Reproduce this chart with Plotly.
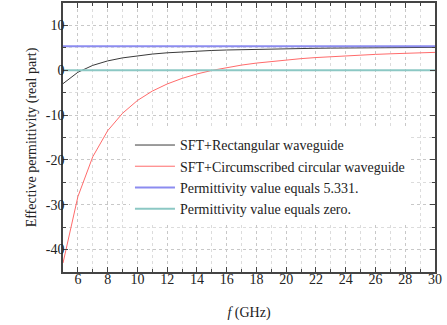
import plotly.graph_objects as go

freq = list(range(5, 31))
rect_wg = [-2.99, -0.45, 1.09, 2.08, 2.76, 3.25, 3.61, 3.89, 4.10, 4.27, 4.41, 4.52, 4.61,
           4.69, 4.76, 4.81, 4.86, 4.90, 4.94, 4.97, 5.00, 5.02, 5.05, 5.07, 5.08, 5.10]
circ_wg = [-43.0, -28.2, -19.3, -13.5, -9.6, -6.75, -4.65, -3.06, -1.82, -0.83, -0.04, 0.61, 1.15,
           1.60, 1.98, 2.31, 2.59, 2.83, 3.05, 3.23, 3.40, 3.54, 3.67, 3.79, 3.89, 3.99]
eps_const = 5.331
x_range = [5, 30]
y_tickvals = [-40, -30, -20, -10, 0, 10]
y_ticktext = ["-40", "-30", "-20", "-10", "0", "10"]
names = ["SFT+Rectangular waveguide", "SFT+Circumscribed circular waveguide",
         "Permittivity value equals 5.331.", "Permittivity value equals zero."]

font = "Liberation Serif, Times New Roman, serif"

fig = go.Figure()
fig.add_trace(go.Scatter(x=freq, y=rect_wg, mode="lines", name=names[0],
                         line=dict(color="#3a3a3a", width=1)))
fig.add_trace(go.Scatter(x=freq, y=circ_wg, mode="lines", name=names[1],
                         line=dict(color="#ff6b6b", width=1)))
fig.add_trace(go.Scatter(x=x_range, y=[eps_const, eps_const], mode="lines", name=names[2],
                         line=dict(color="#8c8cf0", width=2)))
fig.add_trace(go.Scatter(x=x_range, y=[0, 0], mode="lines", name=names[3],
                         line=dict(color="#8cc8c4", width=2)))

axis_common = dict(
    showline=True, linecolor="#444", linewidth=1.5, mirror="ticks",
    ticks="inside", ticklen=5, tickcolor="#444",
    showgrid=True, gridcolor="#c8c8c8", griddash="dot", gridwidth=1,
    zeroline=False,
    tickfont=dict(family=font, size=14, color="#222"),
)

fig.update_xaxes(range=x_range, dtick=2, tick0=0, ticklabelstandoff=-7,
                 minor=dict(dtick=1, ticks="inside", ticklen=3, tickcolor="#444",
                            showgrid=True, gridcolor="#dcdcdc", griddash="dot"),
                 title=dict(text="<i>f</i> (GHz)", font=dict(family=font, size=14, color="#222"),
                            standoff=22),
                 **axis_common)
fig.update_yaxes(range=[-45, 15], tickvals=y_tickvals, ticktext=y_ticktext, ticklabelstandoff=-6,
                 minor=dict(tickvals=[-45, -35, -25, -15, -5, 5, 15], ticks="inside", ticklen=3,
                            tickcolor="#444", showgrid=True, gridcolor="#dcdcdc", griddash="dot"),
                 title=dict(text="Effective permittivity (real part)",
                            font=dict(family=font, size=14, color="#222"), standoff=6),
                 **axis_common)

fig.update_layout(
    width=447, height=325,
    margin=dict(l=63, r=12, t=1, b=53),
    plot_bgcolor="white", paper_bgcolor="white",
    showlegend=True,
    legend=dict(x=0.18, y=0.53, xanchor="left", yanchor="top",
                bgcolor="white", borderwidth=0,
                font=dict(family=font, size=14, color="#222"),
                itemwidth=40, tracegroupgap=0),
)

fig.write_html("out.html", config={"displayModeBar": False},
               post_script="document.body.style.margin='0';document.body.style.overflow='hidden';")
